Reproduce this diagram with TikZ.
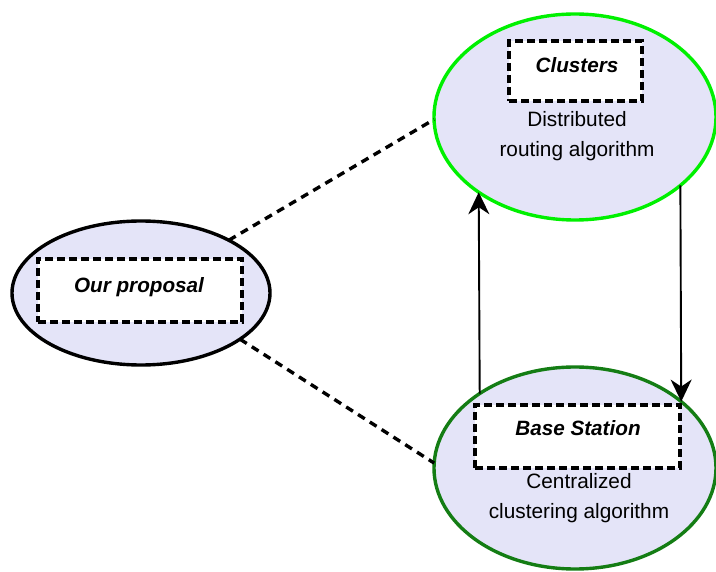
\documentclass[tikz,border=0pt]{standalone}
\usepackage{fontspec}
\setmainfont{Liberation Sans}
\usetikzlibrary{shapes.geometric,arrows.meta}
\definecolor{lav}{RGB}{228,228,248}
\definecolor{brightgreen}{RGB}{0,240,0}
\definecolor{darkgreen}{RGB}{20,125,20}
\tikzset{
  bubble/.style={ellipse,draw,line width=3.4pt,fill=lav,inner sep=0pt,outer sep=0pt},
  dashbox/.style={rectangle,draw,fill=white,line width=3.4pt,dash pattern=on 8pt off 4pt,inner sep=0pt,outer sep=0pt},
  title/.style={font=\fontsize{20.7}{25}\selectfont\bfseries\itshape,inner sep=0pt},
  desc/.style={font=\fontsize{20.8}{30}\selectfont,align=center,inner sep=0pt},
  link/.style={line width=3.4pt,dash pattern=on 8pt off 6pt},
  flow/.style={line width=1.9pt,-{Stealth[length=22pt,width=21pt,inset=7pt]}}
}
\begin{document}
\begin{tikzpicture}[x=1pt,y=-1pt]
\useasboundingbox (0,0) rectangle (716,572);
% ellipses
\node[bubble,draw=brightgreen,minimum width=282pt,minimum height=206pt] (cl) at (575,117) {};
\node[bubble,draw=darkgreen,minimum width=282pt,minimum height=202pt] (bs) at (575,468) {};
\node[bubble,draw=black,minimum width=258pt,minimum height=144pt] (op) at (141,293) {};
% boxes
\node[dashbox,minimum width=133pt,minimum height=60pt] (clbox) at (575.5,71) {};
\node[dashbox,minimum width=205pt,minimum height=63pt] (bsbox) at (577.5,436.5) {};
\node[dashbox,minimum width=204pt,minimum height=63pt] (opbox) at (140,290.5) {};
% titles
\node[title] (clt) at (577,65) {Clusters};
\node[title] (bst) at (578,428) {Base Station};
\node[title] (opt) at (139,287) {Our proposal};
% descriptions
\node[desc] (cld) at (577,136) {Distributed\\routing algorithm};
\node[desc] (bsd) at (579,498) {Centralized\\clustering algorithm};
% links
\draw[link] (op.31) -- (cl.181);
\draw[link] (op.-25) -- (bs.178);
% arrows
\draw[flow] (bs.142.5) -- (cl.218.1);
\draw[flow] (cl.-33.1) -- (bs.32.6);
\end{tikzpicture}
\end{document}
